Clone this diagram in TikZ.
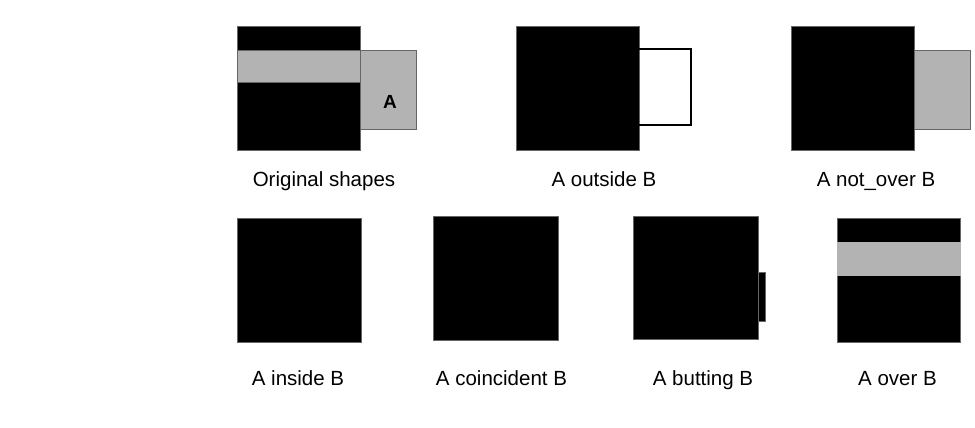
\documentclass[tikz,border=0pt]{standalone}
\usepackage{fontspec}
\setmainfont{Liberation Sans}
\usetikzlibrary{positioning}
\definecolor{shapegray}{RGB}{179,179,179}
\definecolor{edgegray}{RGB}{102,102,102}

\begin{document}
\begin{tikzpicture}[x=1pt,y=-1pt,
  shapeB/.style={fill=black,draw=edgegray,line width=1pt},
  shapeA/.style={fill=shapegray,draw=edgegray,line width=1pt},
  hollowA/.style={draw=black,line width=2pt},
  caption/.style={font=\fontsize{20.5}{24}\selectfont,inner sep=0pt,anchor=base}]
  \useasboundingbox[fill=white] (0,0) rectangle (975,428);
  %
  % original shapes
  \draw[shapeB] (237,27) rectangle (360,150);
  \draw[shapeA] (237,51) rectangle (360,83);
  \draw[shapeA] (360,51) rectangle (416,129);
  \node[font=\fontsize{19}{21}\selectfont\bfseries,inner sep=0pt] (a) at (390,101.5) {A};
  \node[caption] (orig) at (324,186) {Original shapes};
  %
  % A outside B
  \draw[shapeB] (516,27) rectangle (639,150);
  \draw[hollowA] (639,49) -- (691,49) -- (691,125) -- (639,125);
  \node[caption] (outside) at (604,186) {A outside B};
  %
  % A not_over B
  \draw[shapeB] (791,27) rectangle (914,150);
  \draw[shapeA] (914,51) rectangle (970,129);
  \node[caption] (notover) at (876,186) {A not\_over B};
  %
  % A inside B
  \draw[shapeB] (237,218) rectangle (361,342);
  \node[caption] (inside) at (298,385) {A inside B};
  %
  % A coincident B
  \draw[shapeB] (433,216) rectangle (558,340);
  \node[caption] (coinc) at (501.5,385) {A coincident B};
  %
  % A butting B
  \draw[shapeB] (633,216) rectangle (758,339);
  \draw[shapeB] (758,272) rectangle (765,321);
  \node[caption] (butting) at (703,385) {A butting B};
  %
  % A over B
  \draw[shapeB] (837,218) rectangle (960,342);
  \draw[shapeA,draw=shapegray] (837,242) rectangle (960,275);
  \node[caption] (over) at (897.5,385) {A over B};
\end{tikzpicture}
\end{document}
